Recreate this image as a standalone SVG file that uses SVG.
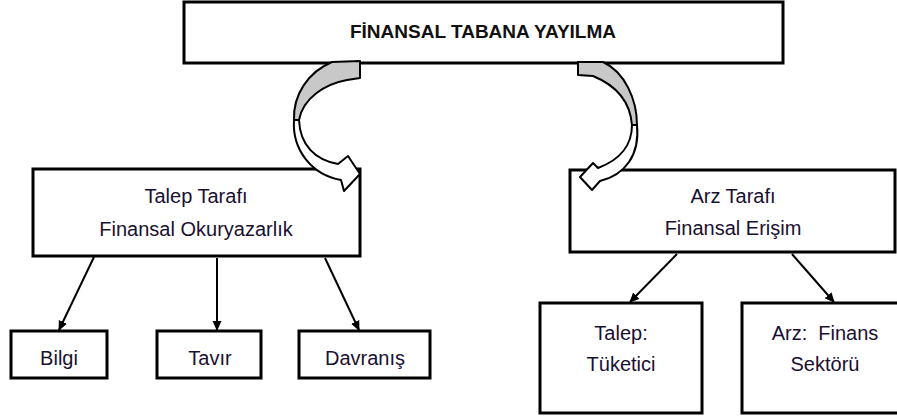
<svg xmlns="http://www.w3.org/2000/svg" width="897" height="419" viewBox="0 0 897 419">
<style>
.box{fill:#fff;stroke:#000;stroke-width:3}
.t{font-family:"Liberation Sans",Arial,sans-serif;font-size:20px;fill:#1a1030;text-anchor:middle}
.title{font-family:"Liberation Sans",Arial,sans-serif;font-size:19px;font-weight:bold;fill:#111;text-anchor:middle}
.conn{stroke:#000;stroke-width:2;fill:none;marker-end:url(#ah)}
.back{fill:#c8c8c8;stroke:#000;stroke-width:2;stroke-linejoin:round}
.front{fill:#fff;stroke:#000;stroke-width:2;stroke-linejoin:round}
</style>
<defs>
<marker id="ah" markerWidth="10" markerHeight="10" refX="9" refY="5" orient="auto" markerUnits="userSpaceOnUse">
<path d="M0,0.5 L10,5 L0,9.5 Z" fill="#000"/>
</marker>
</defs>
<rect width="897" height="419" fill="#fff"/>
<g id="top">
<rect class="box" x="184" y="2" width="599" height="61"/>
<text class="title" x="483" y="38">FİNANSAL TABANA YAYILMA</text>
</g>
<g id="talep-tarafi">
<rect class="box" x="33" y="169" width="327" height="87"/>
<text class="t" x="196" y="203">Talep Tarafı</text>
<text class="t" x="196" y="236">Finansal Okuryazarlık</text>
</g>
<g id="arz-tarafi">
<rect class="box" x="570" y="170" width="325" height="82"/>
<text class="t" x="733" y="203">Arz Tarafı</text>
<text class="t" x="733" y="235">Finansal Erişim</text>
</g>
<g id="bilgi">
<rect class="box" x="11" y="331" width="96" height="47"/>
<text class="t" x="59" y="365">Bilgi</text>
</g>
<g id="tavir">
<rect class="box" x="157" y="331" width="104" height="47"/>
<text class="t" x="210" y="365">Tavır</text>
</g>
<g id="davranis">
<rect class="box" x="299" y="331" width="131" height="47"/>
<text class="t" x="365" y="365">Davranış</text>
</g>
<g id="talep-tuketici">
<rect class="box" x="540" y="303" width="162" height="110"/>
<text class="t" x="621" y="340">Talep:</text>
<text class="t" x="621" y="371">Tüketici</text>
</g>
<g id="arz-finans">
<rect class="box" x="742" y="303" width="170" height="110"/>
<text class="t" x="825" y="340" xml:space="preserve">Arz:  Finans</text>
<text class="t" x="825" y="371">Sektörü</text>
</g>
<g id="connectors">
<path class="back" d="M294,120 C293,95 308,72 332,62 L360,61 L360,78 L347,80 C325,84 303,98 299,120 Z"/>
<path class="front" d="M294,120 C292,150 312,175 341,180 L344,191 L360,174 L348,156 L338,164 C315,160 300,145 299,120 Z"/>
<path class="back" d="M637,125 C637,100 625,72 603,62 L578,62 L578,75 L593,76 C615,85 630,100 632,125 Z"/>
<path class="front" d="M637,125 C640,155 625,175 600,181 L592,190 L580,177 L593,163 L598,168 C620,160 632,145 632,125 Z"/>
<line class="conn" x1="94" y1="257" x2="59" y2="330"/>
<line class="conn" x1="217" y1="258" x2="217" y2="330"/>
<line class="conn" x1="325" y1="258" x2="359" y2="330"/>
<line class="conn" x1="677" y1="254" x2="630" y2="302"/>
<line class="conn" x1="792" y1="254" x2="834" y2="302"/>
</g>
</svg>
